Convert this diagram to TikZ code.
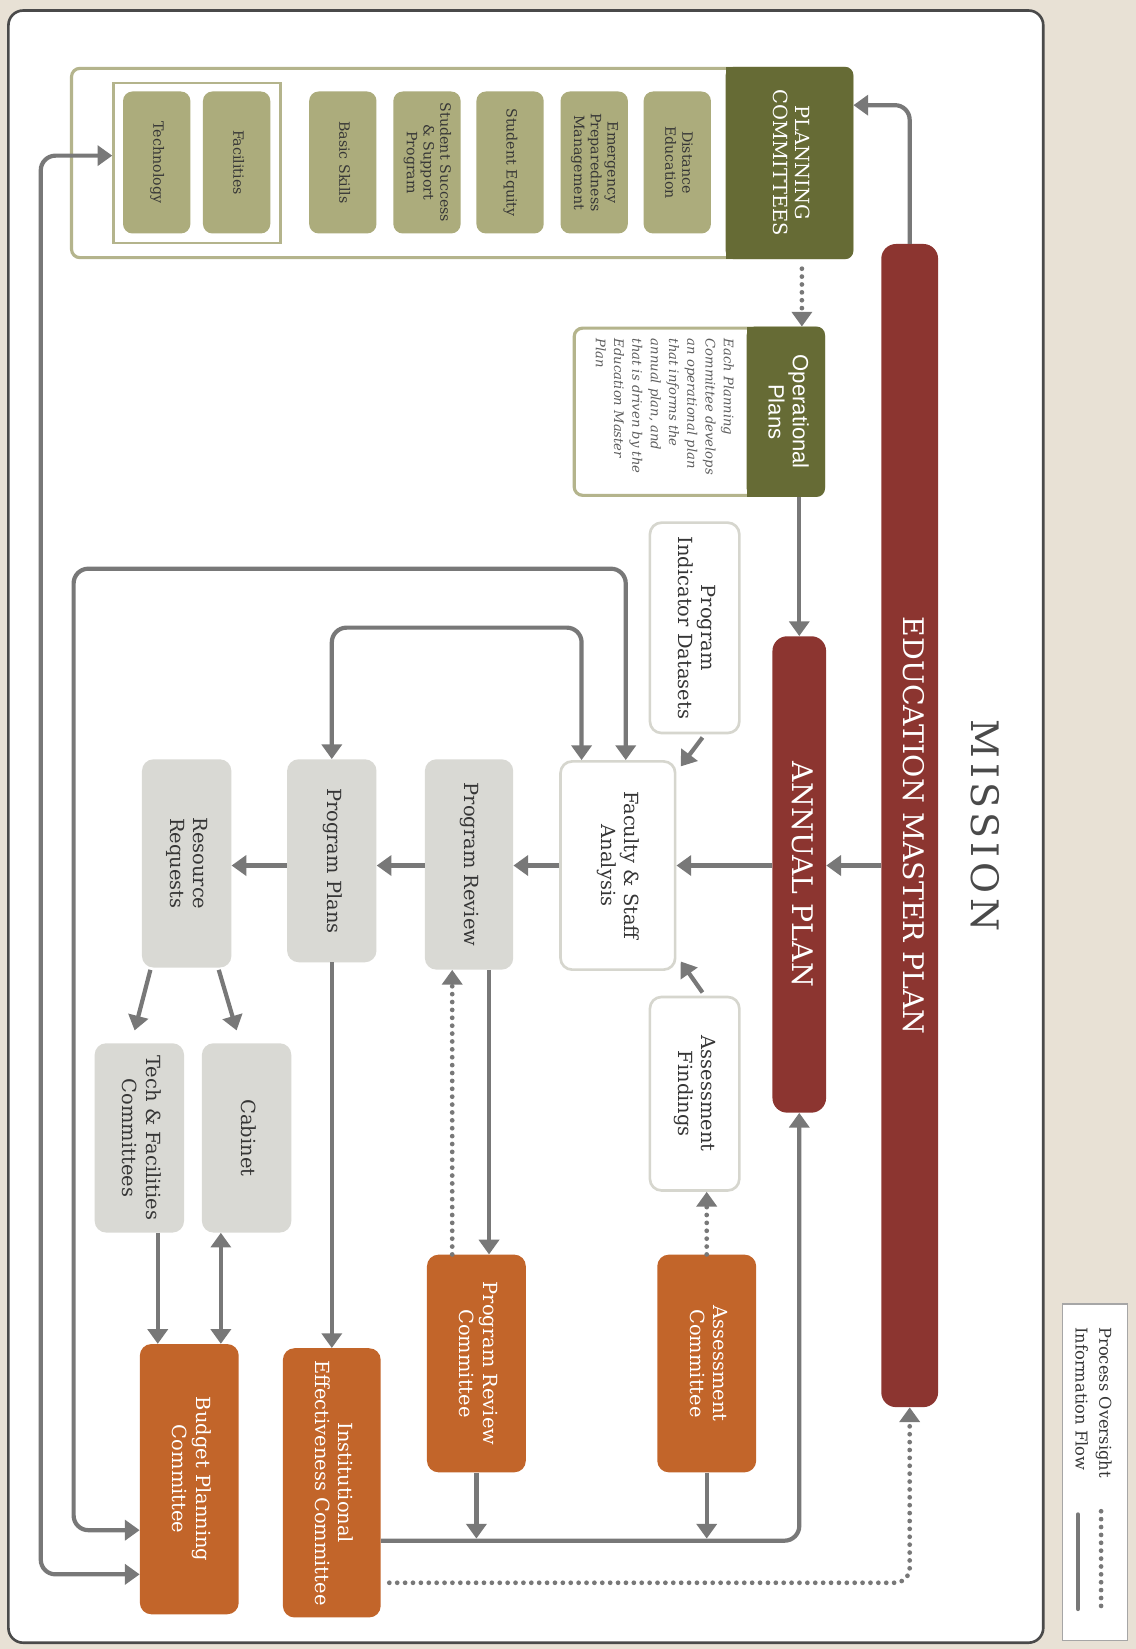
\documentclass[tikz,border=0pt]{standalone}
\usepackage{fontspec}
\usepackage{graphicx}
\setmainfont{DejaVu Serif}
\newfontfamily\opsans{Liberation Sans}
\usetikzlibrary{arrows.meta,calc}
\definecolor{bgbeige}{HTML}{E8E1D5}
\definecolor{framegray}{HTML}{4A4A4A}
\definecolor{olivedark}{HTML}{666B35}
\definecolor{olivelight}{HTML}{ACAC7C}
\definecolor{oliveline}{HTML}{B4B48C}
\definecolor{emred}{HTML}{8C3530}
\definecolor{comorange}{HTML}{C2652A}
\definecolor{boxgray}{HTML}{D9D9D4}
\definecolor{boxline}{HTML}{D6D6CE}
\definecolor{arrowgray}{HTML}{787878}
\definecolor{txtgray}{HTML}{363636}
\definecolor{itgray}{HTML}{5E5E5E}
\newcommand{\vtext}[1]{\rotatebox[origin=c]{-90}{\begin{tabular}{@{}c@{}}#1\end{tabular}}}
\newcommand{\vtextl}[1]{\rotatebox[origin=c]{-90}{\begin{tabular}{@{}l@{}}#1\end{tabular}}}
\newcommand{\fsz}[2]{\fontsize{#1}{#2}\selectfont}
\begin{document}
\begin{tikzpicture}[x=1pt,y=1pt,
  box/.style={rectangle, rounded corners=11pt, inner sep=0pt, text=txtgray, font=\fsz{18.5}{22.5}},
  whitebox/.style={box, draw=boxline, line width=2.5pt, fill=white},
  graybox/.style={box, fill=boxgray},
  orangebox/.style={box, fill=comorange, text=white},
  pill/.style={rectangle, rounded corners=9pt, fill=olivelight, minimum width=64pt, minimum height=135pt, inner sep=0pt, text=txtgray, font=\fsz{13.5}{16}},
  bar/.style={rectangle, rounded corners=14pt, fill=emred, text=white, inner sep=0pt, font=\fsz{27}{30}},
  flow/.style={draw=arrowgray, line width=4pt, -{Triangle[width=19pt,length=14pt]}, rounded corners=14pt},
  flowboth/.style={flow, {Triangle[width=19pt,length=14pt]}-{Triangle[width=19pt,length=14pt]}},
  dotline/.style={draw=arrowgray, line width=4.5pt, line cap=round, dash pattern=on 0pt off 7.5pt},
  oversight/.style={dotline, -{Triangle[width=19pt,length=14pt]}, rounded corners=14pt},
]
% background and frame
\fill[bgbeige] (0,0) rectangle (1080,-1568);
\useasboundingbox (0,0) rectangle (1080,-1568);
\draw[framegray, line width=2.5pt, fill=white, rounded corners=14pt] (8,-10) rectangle (992,-1562);
\draw[gray!70, line width=1.2pt, fill=white] (1010,-1240) rectangle (1072,-1560);

% planning committees
\node[draw=oliveline, line width=3pt, fill=white, rounded corners=8pt, minimum width=742pt, minimum height=180pt, inner sep=0pt] (plan) at (439,-155) {};
\fill[olivedark, rounded corners=8pt] (690,-63.5) rectangle (811.5,-246.5);
\fill[olivedark] (690,-63.5) rectangle (720,-246.5);
\node[text=white, font=\fsz{18.5}{21}] (planhead) at (750,-155) {\vtext{PLANNING\\COMMITTEES}};
\node[draw=oliveline, line width=2.5pt, minimum width=159pt, minimum height=152pt, inner sep=0pt] (pfr) at (187.5,-155) {};
\node[pill] (de) at (644,-154.5) {\vtext{Distance\\Education}};
\node[pill] (epm) at (565,-154.5) {\vtext{Emergency\\Preparedness\\Management}};
\node[pill] (seq) at (485,-154.5) {\vtext{Student Equity}};
\node[pill] (sssp) at (406,-154.5) {\vtext{Student Success\\\& Support\\Program}};
\node[pill] (bsk) at (326,-154.5) {\vtext{Basic Skills}};
\node[pill] (fac) at (225,-154.5) {\vtext{Facilities}};
\node[pill] (tech) at (149,-154.5) {\vtext{Technology}};

% operational plans
\node[draw=oliveline, line width=3pt, fill=white, rounded corners=8pt, minimum width=237pt, minimum height=159pt, inner sep=0pt] (op) at (664.5,-391.5) {};
\fill[olivedark, rounded corners=8pt] (710,-310.5) rectangle (784.5,-472.5);
\fill[olivedark] (710,-310.5) rectangle (730,-472.5);
\node[text=white, font=\opsans\fsz{21}{23}] (ophead) at (747,-391.5) {\vtext{Operational\\Plans}};
\node[anchor=north, inner sep=0pt, text=itgray, font=\itshape\fsz{12.5}{17.4}] (opbody) at (631,-322) {\vtextl{Each Planning\\Committee develops\\an operational plan\\that informs the\\annual plan, and\\that is driven by the\\Education Master\\Plan}};

% bars
\node[bar, minimum width=54pt, minimum height=1106pt] (emp) at (865,-785) {\vtext{EDUCATION MASTER PLAN}};
\node[bar, minimum width=51pt, minimum height=453pt] (annual) at (760,-831.5) {\vtext{ANNUAL PLAN}};
\node[text=framegray, font=\fsz{36}{40}\addfontfeature{LetterSpace=12}] (mission) at (932,-785) {\vtext{MISSION}};

% process boxes
\node[whitebox, minimum width=109pt, minimum height=198pt] (fsa) at (587.5,-823) {\vtext{Faculty \& Staff\\Analysis}};
\node[whitebox, minimum width=85pt, minimum height=200pt] (pid) at (660.5,-597) {\vtext{Program\\Indicator Datasets}};
\node[whitebox, minimum width=85pt, minimum height=184pt] (af) at (660.5,-1040) {\vtext{Assessment\\Findings}};
\node[graybox, minimum width=84pt, minimum height=200pt] (pr) at (446,-822) {\vtext{Program Review}};
\node[graybox, minimum width=85pt, minimum height=193pt] (pp) at (315.5,-818.5) {\vtext{Program Plans}};
\node[graybox, minimum width=85pt, minimum height=198pt] (rr) at (177.5,-821) {\vtext{Resource\\Requests}};
\node[graybox, minimum width=85pt, minimum height=180pt] (tfc) at (132.5,-1082) {\vtext{Tech \& Facilities\\Committees}};
\node[graybox, minimum width=85pt, minimum height=180pt] (cab) at (234.5,-1082) {\vtext{Cabinet}};
\node[orangebox, minimum width=94pt, minimum height=257pt] (bpc) at (180,-1406.5) {\vtext{Budget Planning\\Committee}};
\node[orangebox, minimum width=93pt, minimum height=256pt] (iec) at (315.5,-1410) {\vtext{Institutional\\Effectiveness Committee}};
\node[orangebox, minimum width=94pt, minimum height=207pt] (prc) at (453,-1296.5) {\vtext{Program Review\\Committee}};
\node[orangebox, minimum width=94pt, minimum height=207pt] (ac) at (672,-1296.5) {\vtext{Assessment\\Committee}};

% connectors
\draw[flow] (emp.north) |- ([yshift=55pt]plan.east);
\coordinate (opin) at ([xshift=98pt]op.north);
\coordinate (opout) at (plan.south -| opin);
\draw[oversight] ([yshift=-9pt]opout) -- (opin);
\draw[flow] (op.south -| annual.north) -- (annual.north);
\draw[flow] (emp.west |- fsa.center) -- (annual.east |- fsa.center);
\draw[flow] (annual.west |- fsa.center) -- (fsa.east);
\draw[flow] (fsa.west) -- (pr.east |- fsa.west);
\draw[flow] (pr.west |- fsa.west) -- (pp.east |- fsa.west);
\draw[flow] (pp.west |- fsa.west) -- (rr.east |- fsa.west);
\draw[flow] ([xshift=7.5pt,yshift=-3pt]pid.south) -- ([xshift=4pt,yshift=-6pt]fsa.north east);
\draw[flow] ([xshift=7.5pt,yshift=3pt]af.north) -- ([xshift=4pt,yshift=9pt]fsa.south east);
\draw[flowboth] (pp.north) -- ++(0,125) -| ([xshift=-34.5pt]fsa.north);
\draw[flowboth] ([xshift=7.5pt]fsa.north) -- ++(0,182) -- ++(-525,0) |- ([yshift=-48.5pt]bpc.west);
\draw[flowboth] ([yshift=7pt]pfr.west) -- ++(-68,0) |- ([yshift=-90.5pt]bpc.west);
\draw[flow] ([xshift=-34.5pt,yshift=-2pt]rr.south) -- ([xshift=-4.5pt,yshift=12pt]tfc.north);
\draw[flow] ([xshift=30.5pt,yshift=-2pt]rr.south) -- ([xshift=-9.5pt,yshift=12pt]cab.north);
\coordinate (t1) at ([xshift=17.5pt]tfc.south);
\draw[flow] (t1) -- (t1 |- bpc.north);
\coordinate (c1) at ([xshift=-24.5pt]cab.south);
\draw[flowboth] (c1) -- (c1 |- bpc.north);
\draw[flow] (pp.south) -- (pp.south |- iec.north);
\coordinate (p1) at ([xshift=19pt]pr.south);
\draw[flow] (p1) -- (p1 |- prc.north);
\coordinate (p2) at ([xshift=-23pt]prc.north);
\draw[oversight] (p2) -- (p2 |- pr.south);
\draw[oversight] (ac.north) -- (ac.north |- af.south);
\coordinate (bus) at ([yshift=-55pt]iec.east);
\draw[flow] (bus) -| (annual.south);
\coordinate (bus2) at ([yshift=2pt]bus);
\draw[flow] (prc.south) -- (prc.south |- bus2);
\draw[flow] (ac.south) -- (ac.south |- bus2);
\coordinate (dot1) at ([yshift=-95pt,xshift=8pt]iec.east);
\draw[oversight] (dot1) -| (emp.south);

% legend
\node[anchor=north, inner sep=0pt, text=txtgray, font=\fsz{15.5}{22.5}] (legtext) at (1038.5,-1262) {\vtextl{Process Oversight\\Information Flow}};
\coordinate (ld1) at (1047,-1437);
\coordinate (ld2) at (1047,-1530);
\draw[dotline] (ld1) -- (ld2);
\coordinate (ls1) at (1025,-1440);
\coordinate (ls2) at (1025,-1530);
\draw[arrowgray, line width=4pt, line cap=round] (ls1) -- (ls2);
\end{tikzpicture}
\end{document}
